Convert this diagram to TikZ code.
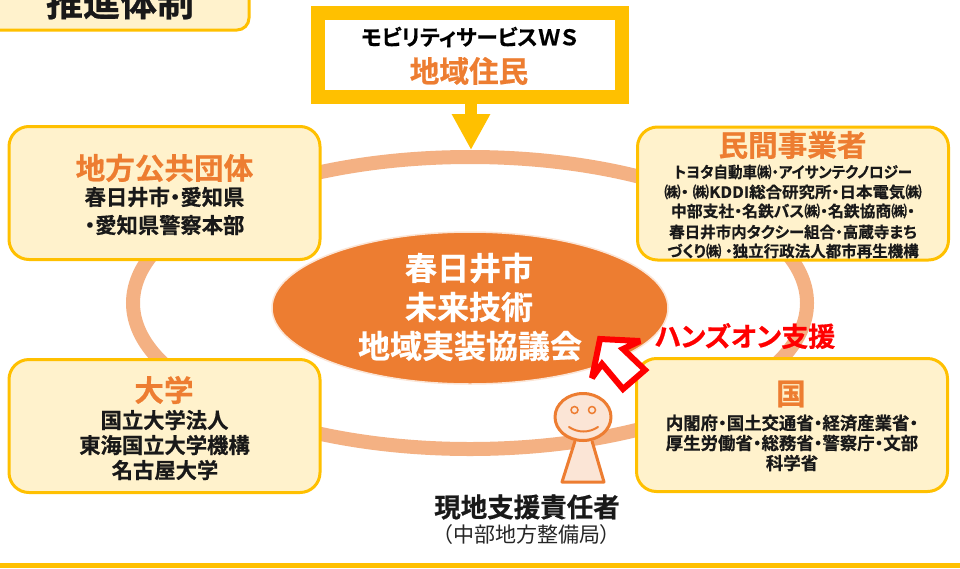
\documentclass[tikz,border=0pt]{standalone}
\usepackage{fontspec}
\setmainfont{Noto Sans CJK JP}[BoldFont={Noto Sans CJK JP Bold},BoldFeatures={FakeBold=0.6},RawFeature=+palt]
\usetikzlibrary{shapes.geometric,arrows.meta}
\definecolor{ylw}{HTML}{FFC000}
\definecolor{cream}{HTML}{FFF2CC}
\definecolor{org}{HTML}{ED7D31}
\definecolor{ringc}{HTML}{F4B183}
\definecolor{skin}{HTML}{FBE5D6}
\newcommand{\hfit}[2]{\scalebox{#1}[1]{#2}}
\tikzset{
  x=1pt,y=-1pt,
  panel/.style={draw=ylw,fill=cream,line width=3pt,rounded corners=20pt,inner sep=0pt,minimum width=311pt,minimum height=133pt},
  ttl/.style={font=\bfseries\fontsize{29.6}{30}\selectfont,text=org,inner sep=0pt},
  bodyl/.style={font=\bfseries\fontsize{21.3}{22}\selectfont,inner sep=0pt,text=black!90},
  smalll/.style={font=\bfseries\fontsize{15.5}{16}\selectfont,inner sep=0pt,text=black!90},
  midl/.style={font=\bfseries\fontsize{17.4}{18}\selectfont,inner sep=0pt,text=black!90},
  centl/.style={font=\bfseries\fontsize{32}{33}\selectfont,text=white,inner sep=0pt},
  skinstroke/.style={draw=org,fill=skin,line width=3pt,line join=round},
}
\begin{document}
\begin{tikzpicture}
\useasboundingbox (0,0) rectangle (960,568);
\clip (0,0) rectangle (960,568);
\fill[white] (0,0) rectangle (960,568);
% ring
\node[ellipse,draw=ringc,line width=14pt,minimum width=674pt,minimum height=292pt,inner sep=0pt] (ring) at (470,303) {};
% centre
\node[ellipse,draw=skin,fill=org,line width=1.5pt,minimum width=396pt,minimum height=152pt,inner sep=0pt] (hub) at (470,308) {};
\node[centl] (h1) at (469,268) {春日井市};
\node[centl] (h2) at (469,307) {未来技術};
\node[centl] (h3) at (470,346) {地域実装協議会};
% header
\node[draw=ylw,fill=cream,line width=3pt,rounded corners=12pt,minimum width=280pt,minimum height=60pt,inner sep=0pt] (hd) at (109,0) {};
\node[font=\bfseries\fontsize{37}{38}\selectfont,inner sep=0pt,text=black!90] (hdt) at (120,2) {推進体制};
% bottom bar
\fill[ylw] (0,563) rectangle (960,568);
% WS
\node[draw=ylw,fill=white,line width=14pt,minimum width=304pt,minimum height=84pt,inner sep=0pt] (ws) at (470,55) {};
\node[font=\bfseries\fontsize{21.6}{24}\selectfont,inner sep=0pt,text=black] (ws1) at (469.5,37) {モビリティサービスＷＳ};
\node[ttl] (ws2) at (469,71) {地域住民};
\coordinate (wsend) at (471,150);
\draw[draw=ylw,line width=12pt,-{Triangle[length=36pt,width=36pt]}] (ws.south -| wsend) -- (wsend);
% panels
\node[panel] (p1) at (164.5,193) {};
\node[ttl] (p1t) at (164.5,168) {地方公共団体};
\node[bodyl] (p1a) at (164.5,197) {春日井市・愛知県};
\node[bodyl] (p1b) at (164.5,225) {・愛知県警察本部};
\node[panel] (p2) at (793,193.5) {};
\node[ttl] (p2t) at (792.5,145) {民間事業者};
\node[smalll] (p2a) at (793,172) {\hfit{.936}{トヨタ自動車㈱・アイサンテクノロジー}};
\node[smalll] (p2b) at (793,192) {\hfit{1.06}{㈱・ ㈱KDDI総合研究所・日本電気㈱}};
\node[smalll] (p2c) at (793,211) {\hfit{1.02}{中部支社・名鉄バス㈱・名鉄協商㈱・}};
\node[smalll] (p2d) at (793,232) {春日井市内タクシー組合・高蔵寺まち};
\node[smalll] (p2e) at (793,251) {づくり㈱ ・独立行政法人都市再生機構};
\node[panel] (p3) at (164.5,426) {};
\node[ttl] (p3t) at (164,390) {大学};
\node[bodyl] (p3a) at (164.5,420) {国立大学法人};
\node[bodyl] (p3b) at (164.5,445) {東海国立大学機構};
\node[bodyl] (p3c) at (165,470) {名古屋大学};
\node[panel] (p4) at (792,425) {};
\node[ttl] (p4t) at (791,394) {国};
\node[midl] (p4a) at (792,423) {内閣府・国土交通省・経済産業省・};
\node[midl] (p4b) at (792,443) {厚生労働省・総務省・警察庁・文部};
\node[midl] (p4c) at (792,463) {科学省};
% person
\draw[skinstroke] (575,441) -- (562,482) -- (604,482) -- (592,441);
\node[ellipse,skinstroke,minimum width=56pt,minimum height=47pt,inner sep=0pt] (head) at (583,417) {};
\draw[org,fill=skin,line width=1.5pt] (574.5,410) circle (3.5pt) (592,410) circle (3.5pt);
\draw[org,line width=2pt,line cap=round] (569,427) .. controls (578,433) and (589,433) .. (598,427);
% hands-on arrow
\draw[red,fill=white,line width=6pt,miter limit=4] (600,339) -- (640,341) -- (623,349) -- (645,370) -- (623,389) -- (602,364) -- (592,378) -- cycle;
\node[font=\bfseries\fontsize{27}{28}\selectfont,text=red,inner sep=0pt] (hands) at (745,336) {ハンズオン支援};
\node[font=\bfseries\fontsize{26.5}{27}\selectfont,inner sep=0pt,text=black!90] (resp) at (527,507) {現地支援責任者};
\node[font=\fontsize{21}{22}\selectfont,inner sep=0pt,text=black!85] (resp2) at (526.5,535) {（中部地方整備局）};
\end{tikzpicture}
\end{document}
